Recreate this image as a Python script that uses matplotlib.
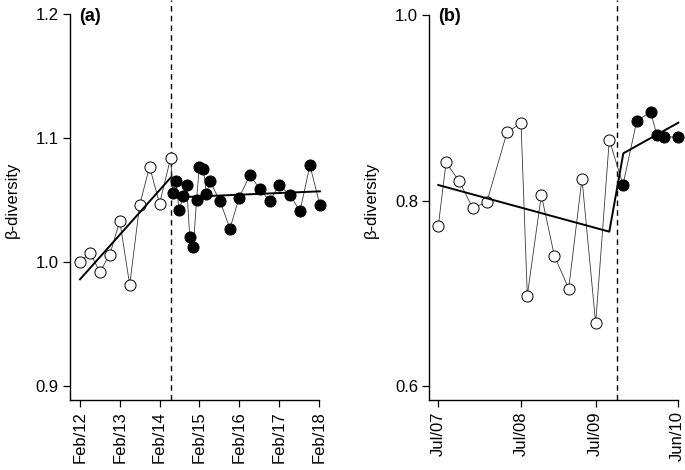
import numpy as np
import matplotlib.pyplot as plt

plt.rcParams['font.family'] = ['Liberation Sans', 'DejaVu Sans']

# ---- panel (a): time in years since Feb 2012
xa_open = [0.0, 0.25, 0.5, 0.75, 1.0, 1.25, 1.5, 1.75, 2.0, 2.28]
ya_open = [1.000, 1.0075, 0.992, 1.006, 1.033, 0.9815, 1.046, 1.077, 1.047, 1.084]
xa_fill = [2.34, 2.41, 2.49, 2.6, 2.68, 2.76, 2.85, 2.93, 3.0, 3.1, 3.18, 3.27,
           3.52, 3.77, 4.0, 4.27, 4.52, 4.77, 5.0, 5.28, 5.53, 5.78, 6.03]
ya_fill = [1.056, 1.065, 1.042, 1.053, 1.062, 1.020, 1.012, 1.050, 1.077, 1.075,
           1.055, 1.065, 1.049, 1.027, 1.052, 1.070, 1.059, 1.049, 1.062, 1.054,
           1.041, 1.078, 1.046]
xa_fit1, ya_fit1 = [0.0, 2.28], [0.986, 1.068]
xa_fit2, ya_fit2 = [2.34, 6.03], [1.052, 1.057]
a_break = 2.29
a_ticks = [0, 1, 2, 3, 4, 5, 6]
a_labels = ['Feb/12', 'Feb/13', 'Feb/14', 'Feb/15', 'Feb/16', 'Feb/17', 'Feb/18']
a_yticks = [0.9, 1.0, 1.1, 1.2]

# ---- panel (b): decimal years
xb_open = [2007.491, 2007.586, 2007.745, 2007.913, 2008.085, 2008.333, 2008.505,
           2008.582, 2008.754, 2008.913, 2009.089, 2009.252, 2009.420, 2009.587]
yb_open = [0.7725, 0.841, 0.821, 0.792, 0.798, 0.8735, 0.8835,
           0.6975, 0.806, 0.7405, 0.705, 0.8235, 0.6675, 0.8655]
xb_fill = [2009.755, 2009.923, 2010.094, 2010.168, 2010.257, 2010.425]
yb_fill = [0.817, 0.8855, 0.8955, 0.871, 0.8685, 0.8685]
xb_fit = [2007.491, 2009.587, 2009.759, 2010.433]
yb_fit = [0.8167, 0.7664, 0.8509, 0.8839]
b_break = 2009.678
b_ticks = [xb_open[0], xb_open[6], xb_open[12], xb_fill[-1]]
b_labels = ['Jul/07', 'Jul/08', 'Jul/09', 'Jun/10']
b_yticks = [0.6, 0.8, 1.0]

W, H = 685, 470
fig = plt.figure(figsize=(W / 100, H / 100), dpi=100)


def panel(rect, xo, yo, xf, yf, fits, brk, xt, xl, yt, xlim, ylim, tag):
    ax = fig.add_axes([rect[0] / W, (H - rect[3]) / H, (rect[2] - rect[0]) / W, (rect[3] - rect[1]) / H])
    ax.plot(list(xo) + list(xf), list(yo) + list(yf), color='#3a3a3a', lw=0.6, zorder=2)
    ax.axvline(brk, color='black', lw=1.0, ls=(0, (4, 3)), zorder=1)
    ax.plot(xo, yo, 'o', ms=8, mfc='white', mec='black', mew=0.7, zorder=3)
    for fx, fy in fits:
        ax.plot(fx, fy, color='black', lw=1.4, zorder=4)
    ax.plot(xf, yf, 'o', ms=8, mfc='black', mec='black', mew=0.7, zorder=5)
    ax.set_xlim(xlim)
    ax.set_ylim(ylim)
    ax.set_xticks(xt)
    ax.set_xticklabels(xl, rotation=90)
    ax.set_yticks(yt)
    ax.set_yticklabels([f'{v:.1f}' for v in yt])
    for s in ['top', 'right']:
        ax.spines[s].set_visible(False)
    ax.spines['left'].set_bounds(ylim[0], yt[-1])
    ax.spines['bottom'].set_bounds(xlim[0], xt[-1])
    for s in ['left', 'bottom']:
        ax.spines[s].set_linewidth(1.0)
    ax.tick_params(direction='out', length=5, width=0.9, labelsize=12, pad=3)
    ax.set_ylabel('β-diversity', fontsize=12)
    ax.yaxis.set_label_coords(-50 / (rect[2] - rect[0]), 0.5)
    ax.text(0.035, 0.98, tag, transform=ax.transAxes, fontsize=13, fontweight='bold',
            ha='left', va='top')
    return ax


panel((70, 0, 335, 400), xa_open, ya_open, xa_fill, ya_fill,
      [(xa_fit1, ya_fit1), (xa_fit2, ya_fit2)], a_break, a_ticks, a_labels,
      a_yticks, (-0.251, 6.41), (0.8887, 1.2113), '(a)')
panel((429, 0, 685, 400), xb_open, yb_open, xb_fill, yb_fill,
      [(xb_fit, yb_fit)], b_break, b_ticks, b_labels,
      b_yticks, (2007.377, 2010.515), (0.5849, 1.0162), '(b)')

fig.savefig('out.png', dpi=100)
